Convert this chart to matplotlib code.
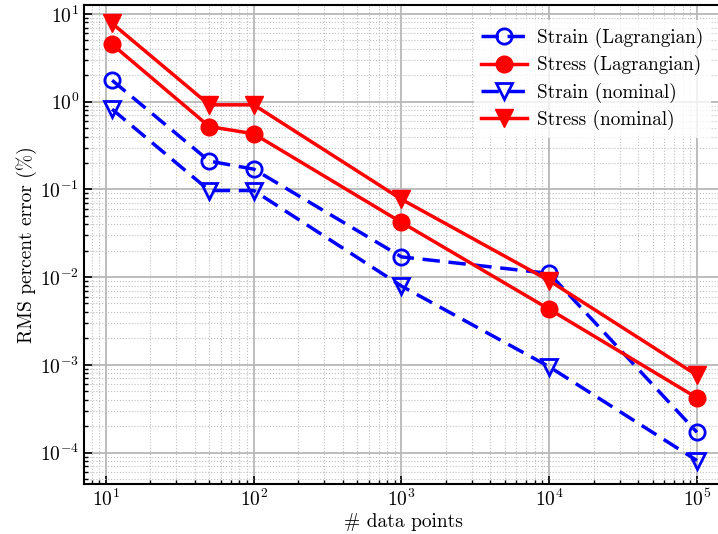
import matplotlib
matplotlib.use("Agg")
import matplotlib.pyplot as plt

plt.rcParams["font.family"] = "cmr10"
plt.rcParams["mathtext.fontset"] = "cm"
plt.rcParams["axes.unicode_minus"] = False
plt.rcParams["axes.formatter.use_mathtext"] = True

n_points = [11, 50, 100, 1000, 10000, 100000]
strain_lagrangian = [1.75, 0.21, 0.17, 0.017, 0.011, 1.7e-4]
stress_lagrangian = [4.5, 0.52, 0.43, 0.042, 0.0043, 4.2e-4]
strain_nominal = [0.82, 0.097, 0.097, 0.0079, 9.5e-4, 8.1e-5]
stress_nominal = [7.8, 0.92, 0.92, 0.077, 0.0091, 7.6e-4]

fig = plt.figure(figsize=(7.18, 5.34), dpi=100)
ax = fig.add_axes([0.117, 0.094, 0.89, 0.897])

dash = (5, 2.5)
ax.loglog(n_points, strain_lagrangian, "--", dashes=dash, color="blue", lw=2.5,
          marker="o", ms=11, mfc="none", mew=2, label="Strain (Lagrangian)")
ax.loglog(n_points, stress_lagrangian, "-", color="red", lw=2.5,
          marker="o", ms=12, label="Stress (Lagrangian)")
ax.loglog(n_points, strain_nominal, "--", dashes=dash, color="blue", lw=2.5,
          marker="v", ms=12, mfc="none", mew=2, label="Strain (nominal)")
ax.loglog(n_points, stress_nominal, "-", color="red", lw=2.5,
          marker="v", ms=13, label="Stress (nominal)")

ax.set_xlim(7.1, 1.5e5)
ax.set_ylim(4.4e-5, 12.7)
ax.grid(which="major", color="0.72", lw=1.3, ls="-")
ax.grid(which="minor", color="0.75", lw=0.8, ls=":")
ax.tick_params(which="both", direction="in", labelsize=14)
ax.tick_params(which="major", length=6, width=1.2)
ax.tick_params(which="minor", length=3, width=1)
for s in ax.spines.values():
    s.set_linewidth(1.5)
ax.spines["right"].set_visible(False)

ax.set_xlabel("# data points", fontsize=14, labelpad=2)
ax.set_ylabel("RMS percent error (%)", fontsize=14, labelpad=2)
leg = ax.legend(loc="upper right", fontsize=13.8, frameon=True, fancybox=False,
                edgecolor="none", framealpha=0.8, borderaxespad=0.8,
                bbox_to_anchor=(1.005, 1.0), labelspacing=0.38,
                handlelength=2.4, handletextpad=0.5)

fig.savefig("out.png", dpi=100)
